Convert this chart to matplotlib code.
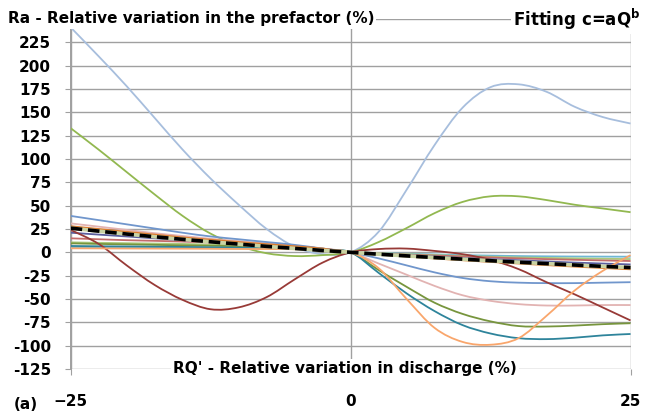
import numpy as np
import matplotlib
matplotlib.use("Agg")
import matplotlib.pyplot as plt
from matplotlib.path import Path
from matplotlib.patches import PathPatch

plt.rcParams['font.family'] = ['Liberation Sans Narrow', 'DejaVu Sans']
plt.rcParams['font.weight'] = 'bold'

# relative variation in discharge (%)
rq = [-25, -22.5, -20, -17.5, -15, -12.5, -10, -7.5, -5, -2.5, 0,
      2.5, 5, 7.5, 10, 12.5, 15, 17.5, 20, 22.5, 25]

# relative variation in the prefactor (%), one list per station
light_blue_big = [241, 210, 178, 144, 110, 79, 51, 25, 6, -2, 0,
                  22, 67, 115, 155, 177, 180, 172, 156, 145, 138]
green_big = [133, 110, 86, 62, 39, 20, 7, -1, -4, -3, 0,
             11, 26, 42, 54, 60, 60, 56, 51, 47, 43]
brown = [24, 9, -14, -35, -51, -61, -59, -48, -29, -11, 0,
         3.5, 4, 1.5, -2, -8, -18, -32, -45, -59, -73]
blue = [39, 34.5, 30, 25.5, 21, 17, 14, 11, 8, 4, 0,
        -6.5, -14, -21.5, -27.5, -31, -32.5, -33, -33, -32.5, -32]
pink = [31, 27.5, 24, 20.5, 17.5, 14.5, 12, 9.5, 7, 4, 0,
        -12, -24, -36, -46, -52, -55.5, -57, -57, -56.5, -56.5]
olive = [9.6, 9, 8.5, 8, 7.5, 7, 6.5, 5.5, 4.5, 2.5, 0,
         -19, -37, -54, -66, -74, -79, -79.5, -78.5, -77, -76]
teal = [6.8, 6.5, 6.3, 6, 5.8, 5.4, 5, 4.5, 4, 2.5, 0,
        -22, -44, -63, -78, -87, -92, -93, -91.5, -89, -87.5]
orange_big = [4.3, 4.2, 4.1, 4, 3.9, 3.8, 3.6, 3.5, 3.3, 2.2, 0,
              -17, -50, -81, -96, -99, -92, -68, -41, -20, -3]
orange = [28, 25, 22, 19, 16, 13.5, 11, 8.7, 6.5, 4, 0,
          -2.4, -4.5, -6.6, -8.5, -10.3, -12, -13.7, -15.3, -16.8, -18.2]
purple = [21, 19, 17, 15, 13, 11.2, 9.5, 7.7, 6, 3.5, 0,
          -1.5, -3, -4.5, -6, -7.3, -8.5, -9.8, -11, -12, -13]
rose = [15, 14, 13, 12.3, 11.5, 10.5, 9.5, 8, 6.5, 4, 0,
        -1.3, -2.5, -3.5, -4.5, -5.5, -6.5, -7.3, -8, -8.7, -9.3]
light_green = [10.7, 10.2, 9.8, 9.4, 9, 8.2, 7.5, 6.7, 6, 4, 0,
               -1, -2, -3, -4, -4.8, -5.5, -6, -6.5, -6.9, -7.2]
aqua = [5.5, 5.3, 5.1, 4.9, 4.7, 4.4, 4.1, 3.8, 3.5, 2.2, 0,
        -0.8, -1.5, -2.3, -3, -3.5, -4, -4.3, -4.5, -4.6, -4.7]
# overall fit
fit = [25.9, 22.7, 19.6, 16.7, 13.9, 11.3, 8.8, 6.4, 4.2, 2.0, 0,
       -2.0, -3.8, -5.6, -7.3, -9.0, -10.6, -12.1, -13.6, -15.0, -16.3]

y_ticks = list(range(-125, 251, 25))
y_labels = [str(v) for v in y_ticks[:-1]] + ['']
x_ticks = [-25, 0, 25]


def smooth_line(ax, xs, ys, **kw):
    # excel-like smoothed line: bezier through the data points
    pts = np.column_stack([xs, ys]).astype(float)
    verts = [pts[0]]
    codes = [Path.MOVETO]
    n = len(pts)
    for i in range(n - 1):
        p0 = pts[i - 1] if i > 0 else pts[i]
        p1, p2 = pts[i], pts[i + 1]
        p3 = pts[i + 2] if i + 2 < n else pts[i + 1]
        verts += [p1 + (p2 - p0) / 6, p2 - (p3 - p1) / 6, p2]
        codes += [Path.CURVE4] * 3
    patch = PathPatch(Path(verts, codes), facecolor='none', transform=ax.transData,
                      capstyle='butt', joinstyle='round', **kw)
    ax.add_patch(patch)


fig = plt.figure(figsize=(6.45, 4.12), dpi=100)
ax = fig.add_axes([0.1096, 0.1044, 0.868, 0.8495])

series = [
    (light_blue_big, '#A7BEDD'),
    (green_big, '#92B850'),
    (aqua, '#6FB7D3'),
    (light_green, '#ABC97C'),
    (rose, '#C46C6B'),
    (purple, '#5B5E9E'),
    (olive, '#77953D'),
    (teal, '#2E849B'),
    (pink, '#E2B3B2'),
    (blue, '#7096CC'),
    (brown, '#983A37'),
    (orange, '#DC7A2C'),
    (orange_big, '#F9A66C'),
]
for vals, col in series:
    smooth_line(ax, rq, vals, edgecolor=col, lw=1.3, zorder=3)

smooth_line(ax, rq, fit, edgecolor='#C9D3A3', lw=2.6, zorder=4)
smooth_line(ax, rq, fit, edgecolor='black', lw=2.6, linestyle=(0, (3.2, 1.6)), zorder=5)

ax.set_xlim(-25, 25)
ax.set_ylim(-125, 250)
ax.set_xticks(x_ticks)
ax.set_yticks(y_ticks)
ax.set_yticklabels(y_labels)
ax.tick_params(axis='y', length=4, color='#A0A0A0', labelsize=11, pad=10)
ax.tick_params(axis='x', length=4, color='#A0A0A0', labelsize=11, pad=14)
for lab in ax.get_xticklabels() + ax.get_yticklabels():
    lab.set_fontweight('bold')

ax.grid(True, color='#A0A0A0', lw=1.0, zorder=1)
for side in ['top', 'right', 'bottom']:
    ax.spines[side].set_visible(False)
ax.spines['left'].set_color('#A0A0A0')
ax.spines['left'].set_linewidth(1.4)

box = dict(facecolor='white', edgecolor='none', pad=1.5)
fig.text(0.012, 0.954, 'Ra - Relative variation in the prefactor (%)',
         fontsize=11, fontweight='bold', va='center', ha='left', bbox=box, zorder=10)
fig.text(0.993, 0.954, 'Fitting c=aQ$^\\mathbf{b}$', fontsize=12, fontweight='bold',
         va='center', ha='right', bbox=box, zorder=10)
ax.text(-0.5, -125, "RQ' - Relative variation in discharge (%)", fontsize=11,
        fontweight='bold', va='center', ha='center', bbox=box, zorder=10)
fig.text(0.022, 0.018, '(a)', fontsize=11, fontweight='bold', va='center', ha='left')

fig.savefig('out.png', dpi=100)
